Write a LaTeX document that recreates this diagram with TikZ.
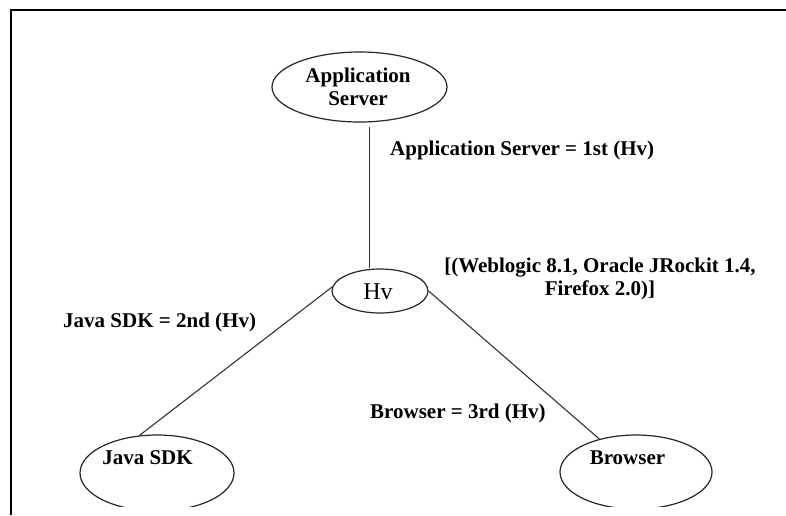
\documentclass[tikz,border=0pt]{standalone}
\usepackage{fontspec}
\setmainfont{Liberation Serif}
\usetikzlibrary{shapes.geometric}

\tikzset{
  oval/.style={draw=black!85, line width=1.2pt, ellipse, inner sep=0pt},
  link/.style={draw=black!80, line width=1.1pt},
  lbl/.style={inner sep=0pt, font=\fontsize{21}{23}\selectfont\bfseries},
  hvtext/.style={inner sep=0pt, font=\fontsize{24}{28}\selectfont},
  frameline/.style={draw=black, line width=2pt}
}

\begin{document}
\begin{tikzpicture}[x=1pt, y=-1pt]
  \useasboundingbox (0,0) rectangle (786,515);

  % frame edges (top and left)
  \draw[frameline] (10.5,515) -- (10.5,10) -- (786,10);

  % ellipses, cut off at the lower edge of the window
  \begin{scope}
    \clip (0,0) rectangle (786,506);
    \node[oval, minimum width=175pt, minimum height=70pt] (as) at (359.5,87) {};
    \node[oval, minimum width=96pt, minimum height=44pt] (hv) at (380,291) {};
    \node[oval, minimum width=154pt, minimum height=76pt] (jsdk) at (157,473) {};
    \node[oval, minimum width=152pt, minimum height=74pt] (br) at (636,472) {};
  \end{scope}

  % node texts
  \node[lbl, align=center] (as-t) at (358,87) {Application\\Server};
  \node[hvtext] (hv-t) at (378,292) {Hv};
  \node[lbl] (jsdk-t) at (147.5,458) {Java SDK};
  \node[lbl] (br-t) at (627.5,458) {Browser};

  % connectors
  \coordinate (v1) at (369.5,127);
  \draw[link] (v1) -- (v1 |- hv.north);
  \draw[link] (hv.175) -- (jsdk.115);
  \draw[link] (hv.east) -- (br.138);

  % edge labels
  \node[lbl, anchor=west] (l1) at (390,150) {Application Server = 1st (Hv)};
  \node[lbl, align=center] (l0) at (600,279) {[(Weblogic 8.1, Oracle JRockit 1.4,\\Firefox 2.0)]};
  \node[lbl, anchor=west] (l2) at (63,322) {Java SDK = 2nd (Hv)};
  \node[lbl, anchor=west] (l3) at (370,413) {Browser = 3rd (Hv)};
\end{tikzpicture}
\end{document}
